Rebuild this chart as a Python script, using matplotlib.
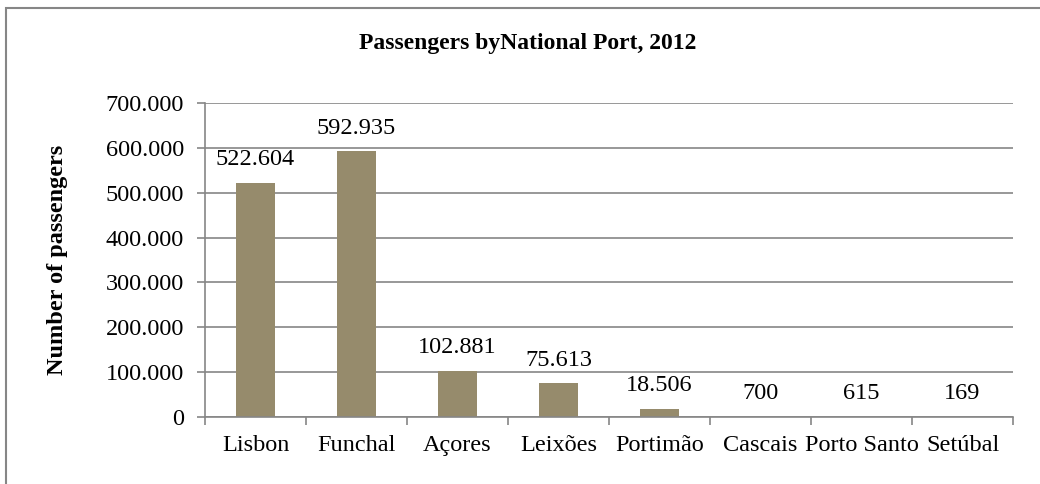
import matplotlib.pyplot as plt
from matplotlib.patches import Rectangle
from matplotlib.ticker import FuncFormatter

ports = ['Lisbon', 'Funchal', 'Açores', 'Leixões', 'Portimão',
         'Cascais', 'Porto Santo', 'Setúbal']
passengers = [522604, 592935, 102881, 75613, 18506, 700, 615, 169]


def dotted(v):
    # thousands separated by dots, e.g. 522.604
    return f'{int(round(v)):,}'.replace(',', '.')


if __name__ == '__main__':
    plt.rcParams['font.family'] = ['Liberation Serif', 'DejaVu Serif']
    plt.rcParams['font.size'] = 17.5

    W, H = 1040, 484
    fig = plt.figure(figsize=(W / 100, H / 100), dpi=100)
    ax = fig.add_axes([205 / W, 1 - 417 / H, (1013 - 205) / W, (417 - 103) / H])

    grey = '#868686'
    x = range(len(ports))
    ax.bar(x, passengers, width=0.39, color='#968B6C', zorder=2)

    for i, v in enumerate(passengers):
        ax.annotate(dotted(v), (i, v), xytext=(0, 9), textcoords='offset points',
                    ha='center', va='bottom')

    ax.set_xlim(-0.5, len(ports) - 0.5)
    ax.set_ylim(0, 700000)
    ax.set_yticks(range(0, 700001, 100000))
    ax.yaxis.set_major_formatter(FuncFormatter(lambda v, p: dotted(v)))
    ax.grid(axis='y', color=grey, linewidth=1.2, zorder=0)

    ax.set_xticks(list(x))
    ax.set_xticklabels(ports)
    ax.set_xticks([i - 0.5 for i in range(len(ports) + 1)], minor=True)
    ax.tick_params(axis='x', which='major', length=0, pad=13)
    ax.tick_params(axis='x', which='minor', length=6, width=1.2, color=grey)
    ax.tick_params(axis='y', length=6, width=1.2, color=grey, pad=9)

    for side in ('top', 'right'):
        ax.spines[side].set_visible(False)
    for side in ('left', 'bottom'):
        ax.spines[side].set_color(grey)
        ax.spines[side].set_linewidth(1.2)

    fig.text(57 / W, 1 - 260 / H, 'Number of passengers', rotation=90,
             ha='center', va='center', fontweight='bold')
    fig.text(528 / W, 1 - 43 / H, 'Passengers byNational Port, 2012',
             ha='center', va='center', fontweight='bold', fontsize=17)

    # outer frame around the chart area
    fig.patches.append(Rectangle((6 / W, -0.1), 1.2, 1 - 8 / H + 0.1,
                                 transform=fig.transFigure, fill=False,
                                 edgecolor=grey, linewidth=1.5))

    fig.savefig('out.png', dpi=100)
